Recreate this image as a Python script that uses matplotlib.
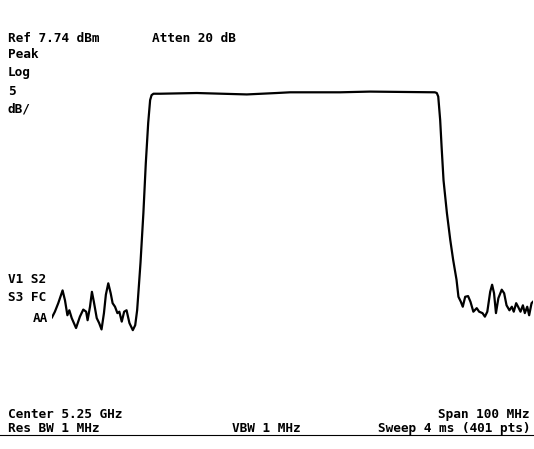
import matplotlib
matplotlib.use("Agg")
import matplotlib.pyplot as plt

# spectrum analyzer trace, 5.25 GHz centre, 100 MHz span
ref_level = 7.74   # dBm, top of screen
db_per_div = 5

freq_mhz = [
    5200.0, 5200.6, 5201.3, 5202.2, 5202.7, 5203.2, 5203.6, 5204.1, 5205.0, 5205.8,
    5206.5, 5207.1, 5207.4, 5207.9, 5208.3, 5208.7, 5209.3, 5209.8, 5210.3, 5210.8,
    5211.2, 5211.7, 5212.2, 5212.6, 5213.1, 5213.6, 5214.0, 5214.5, 5215.0, 5215.5,
    5216.1, 5216.8, 5217.3, 5217.7, 5218.1, 5218.4, 5219.0, 5219.5, 5220.0, 5220.4,
    5220.7, 5221.1, 5222.5, 5230.1, 5240.5, 5246.7, 5249.5, 5259.9, 5266.1, 5279.6,
    5280.0, 5280.3, 5280.7, 5281.0, 5281.4, 5282.1, 5282.8, 5283.4, 5284.1, 5284.5,
    5285.0, 5285.4, 5285.9, 5286.5, 5287.0, 5287.6, 5288.3, 5288.8, 5289.5, 5290.0,
    5290.5, 5291.1, 5291.5, 5291.9, 5292.3, 5292.8, 5293.5, 5294.0, 5294.5, 5295.1,
    5295.6, 5296.0, 5296.5, 5296.9, 5297.4, 5297.9, 5298.3, 5298.8, 5299.2, 5299.7,
    5300.0,
]
level_dbm = [
    -30.2, -29.4, -28.2, -26.4, -27.8, -29.9, -29.2, -30.3, -31.7, -30.1,
    -29.1, -29.4, -30.6, -28.7, -26.6, -28.0, -30.3, -31.0, -31.9, -29.6,
    -27.0, -25.4, -26.8, -28.2, -28.7, -29.6, -29.4, -30.8, -29.4, -29.2,
    -31.0, -32.0, -31.3, -29.2, -25.4, -22.5, -15.5, -8.5, -2.8, 0.4,
    1.1, 1.3, 1.3, 1.4, 1.2, 1.4, 1.5, 1.5, 1.6, 1.5,
    1.4, 0.9, -2.4, -6.2, -10.9, -15.5, -19.3, -22.1, -24.9, -27.3,
    -28.0, -28.7, -27.3, -27.2, -28.0, -29.4, -28.9, -29.4, -29.6, -30.1,
    -29.4, -26.6, -25.6, -26.8, -29.6, -27.5, -26.3, -26.8, -28.5, -29.2,
    -28.7, -29.4, -28.2, -28.7, -29.4, -28.5, -29.6, -28.7, -29.9, -28.2,
    -28.0,
]

W, H = 534, 449
fig = plt.figure(figsize=(W / 100, H / 100), dpi=100)
ax = fig.add_axes([52 / W, 1 - 403 / H, 481 / W, 355 / H])
ax.plot(freq_mhz, level_dbm, color="black", lw=1.6, solid_joinstyle="round")
ax.set_xlim(5200, 5300)
ax.set_ylim(ref_level - 10 * db_per_div, ref_level)
ax.axis("off")

font = dict(family="DejaVu Sans Mono", weight="bold", size=9.2, color="black")


def label(x, y, s, ha="left"):
    fig.text(x / W, 1 - y / H, s, ha=ha, va="baseline", **font)


label(8, 42, "Ref 7.74 dBm")
label(152, 42, "Atten 20 dB")
label(8, 58, "Peak")
label(8, 76, "Log")
label(8, 95, "5")
label(8, 112, "dB/")
label(8, 283, "V1 S2")
label(8, 301, "S3 FC")
label(33, 322, "AA")
label(8, 418, "Center 5.25 GHz")
label(530, 418, "Span 100 MHz", ha="right")
label(8, 432, "Res BW 1 MHz")
label(232, 432, "VBW 1 MHz")
label(530, 432, "Sweep 4 ms (401 pts)", ha="right")

fig.add_artist(plt.Line2D([0, 1], [1 - 434.5 / H] * 2, color="black", lw=0.8))

fig.savefig("out.png", dpi=100, facecolor="white")
